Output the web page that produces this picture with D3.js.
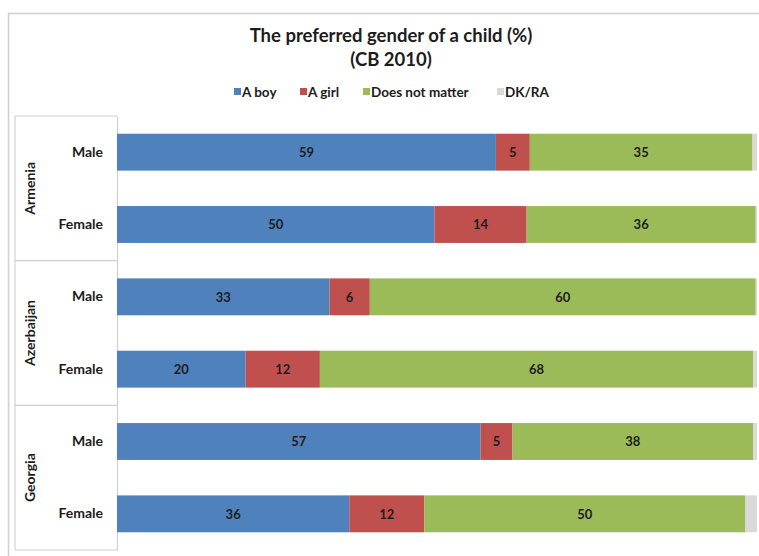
<!DOCTYPE html>
<html>
<head>
<meta charset="utf-8">
<script src="https://cdn.jsdelivr.net/npm/d3@7"></script>
<style>
  body { margin: 0; background: #fff; }
  svg { font-family: Lato, "Open Sans", sans-serif; }
</style>
</head>
<body>
<svg id="chart" width="759" height="556"></svg>
<script>
const countries = ['Armenia', 'Azerbaijan', 'Georgia'];
const sexes = ['Male', 'Female'];
const seriesNames = ['A boy', 'A girl', 'Does not matter', 'DK/RA'];
const colors = ['#4F81BD', '#C0504D', '#9BBB59', '#D9D9D9'];

// rows: Armenia M/F, Azerbaijan M/F, Georgia M/F
const boy = [59.2, 49.6, 33.2, 20.1, 56.8, 36.3];
const girl = [5.3, 14.4, 6.3, 11.6, 5.0, 11.7];
const noMatter = [34.8, 35.8, 60.3, 67.7, 37.6, 50.2];
const dkra = [0.7, 0.2, 0.2, 0.6, 0.6, 1.8];

const rows = countries.flatMap(c => sexes.map(s => `${c}|${s}`));
const tableData = rows.map((key, i) => ({
  key,
  0: boy[i], 1: girl[i], 2: noMatter[i], 3: dkra[i]
}));

const svg = d3.select('#chart');
const textColor = '#1c1c1c';

// outer chart frame
svg.append('rect')
  .attr('x', 8.5).attr('y', 13.5)
  .attr('width', 800).attr('height', 600)
  .attr('fill', 'none')
  .attr('stroke', '#d0d0d0')
  .attr('stroke-width', 1.5);

const plotLeft = 117;
const plotRight = 757;
const plotTop = 116;
const plotBottom = 550;

const x = d3.scaleLinear().domain([0, 100]).range([plotLeft, plotRight]);
const y = d3.scaleBand().domain(rows).range([plotTop, plotBottom]).paddingInner(0.49).paddingOuter(0.245);
const groupY = d3.scaleBand().domain(countries).range([plotTop, plotBottom]);

// title
svg.append('text')
  .attr('x', 391).attr('y', 42)
  .attr('text-anchor', 'middle')
  .attr('font-size', 18.5).attr('font-weight', 'bold')
  .attr('fill', textColor)
  .text('The preferred gender of a child (%)');
svg.append('text')
  .attr('x', 391).attr('y', 66)
  .attr('text-anchor', 'middle')
  .attr('font-size', 18.5).attr('font-weight', 'bold')
  .attr('fill', textColor)
  .text('(CB 2010)');

// legend
const legendX = [234, 300, 363, 497];
const legend = svg.append('g').attr('class', 'legend');
seriesNames.forEach((name, i) => {
  const g = legend.append('g').attr('transform', `translate(${legendX[i]}, 92)`);
  g.append('rect').attr('x', 0).attr('y', -4).attr('width', 7).attr('height', 7).attr('fill', colors[i]);
  g.append('text').attr('x', 8).attr('y', 4.5)
    .attr('font-size', 13.5).attr('font-weight', 'bold').attr('fill', textColor)
    .text(name);
});

// category box lines
const frame = svg.append('g').attr('stroke', '#d0d0d0').attr('stroke-width', 1.2);
frame.append('line').attr('x1', 15).attr('x2', 15).attr('y1', plotTop).attr('y2', plotBottom);
countries.forEach(c => {
  frame.append('line').attr('x1', 15).attr('x2', plotLeft).attr('y1', groupY(c)).attr('y2', groupY(c));
});
frame.append('line').attr('x1', 15).attr('x2', plotLeft).attr('y1', plotBottom).attr('y2', plotBottom);

// y axis with sex labels
const yAxis = d3.axisLeft(y).tickSize(0).tickPadding(14).tickFormat(d => d.split('|')[1]);
const yAxisG = svg.append('g').attr('transform', `translate(${plotLeft}, 0)`).call(yAxis);
yAxisG.select('.domain').attr('stroke', '#d0d0d0').attr('stroke-width', 1.2);
yAxisG.selectAll('text')
  .attr('font-size', 14).attr('font-weight', 'bold').attr('fill', textColor)
  .attr('font-family', 'Lato, "Open Sans", sans-serif');

// country labels, rotated
svg.append('g').selectAll('text')
  .data(countries)
  .enter()
  .append('text')
  .attr('transform', d => `translate(35, ${groupY(d) + groupY.bandwidth() / 2}) rotate(-90)`)
  .attr('text-anchor', 'middle')
  .attr('font-size', 14).attr('font-weight', 'bold').attr('fill', textColor)
  .text(d => d);

// stacked bars
const stackData = d3.stack().keys([0, 1, 2, 3])(tableData);

const layer = svg.append('g').selectAll('.layer')
  .data(stackData)
  .enter()
  .append('g')
  .attr('class', 'layer')
  .attr('fill', (_, i) => colors[i]);

layer.selectAll('rect')
  .data(d => d)
  .enter()
  .append('rect')
  .attr('x', ([start]) => x(start))
  .attr('y', d => y(d.data.key))
  .attr('width', ([start, end]) => x(end) - x(start))
  .attr('height', y.bandwidth());

// value labels (not for DK/RA)
layer.filter((_, i) => i < 3)
  .selectAll('text')
  .data(d => d)
  .enter()
  .append('text')
  .attr('x', ([start, end]) => (x(start) + x(end)) / 2)
  .attr('y', d => y(d.data.key) + y.bandwidth() / 2)
  .attr('dy', '0.36em')
  .attr('text-anchor', 'middle')
  .attr('font-size', 13).attr('font-weight', 'bold').attr('fill', textColor)
  .text(([start, end]) => Math.round(end - start));
</script>
</body>
</html>
